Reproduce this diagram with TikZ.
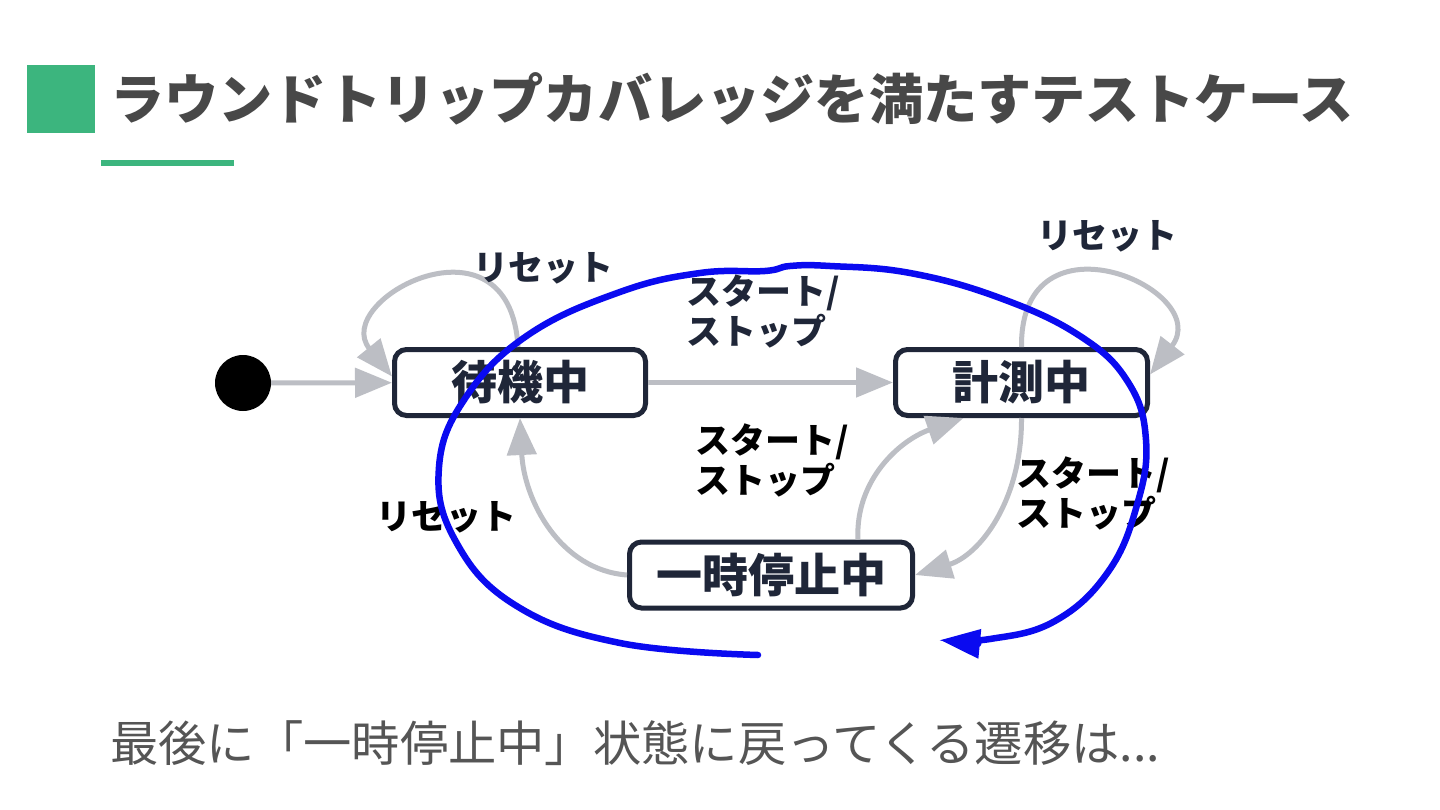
\documentclass[tikz,border=0pt]{standalone}
\usepackage{fontspec}
\setmainfont{Noto Sans CJK JP}
\usetikzlibrary{arrows.meta}
\definecolor{grn}{HTML}{3CB57E}
\definecolor{ttl}{HTML}{484848}
\definecolor{navy}{HTML}{1F2638}
\definecolor{arr}{HTML}{BCBEC4}
\definecolor{blu}{HTML}{0A0AF0}
\definecolor{btm}{HTML}{555555}
\begin{document}
\begin{tikzpicture}[x=1pt,y=-1pt,
  statebox/.style={draw=navy, line width=5pt, rounded corners=12pt, fill=white,
    minimum height=66pt, text=navy, inner sep=0pt,
    font=\fontsize{46}{50}\selectfont\bfseries},
  garr/.style={draw=arr, line width=5pt, -{Triangle[length=37pt,width=29pt]}},
  lbl/.style={inner sep=0pt, align=left, font=\fontsize{35}{40}\selectfont\bfseries},
]
\useasboundingbox (0,0) rectangle (1440,810);
\fill[white] (0,0) rectangle (1440,810);

% title
\fill[grn] (27,65) rectangle (95,133);
\fill[grn] (101,160) rectangle (234,166);
\node[anchor=west, inner sep=0pt, text=ttl, font=\fontsize{54.2}{60}\selectfont\bfseries] (title) at (110,99) {ラウンドトリップカバレッジを満たすテストケース};

% states
\node[circle, fill=black, minimum size=56pt, inner sep=0pt] (init) at (243,383) {};
\node[statebox, minimum width=251pt] (wait) at (520,382.5) {待機中};
\node[statebox, minimum width=252pt] (meas) at (1021.5,382.5) {計測中};
\node[statebox, minimum width=283pt] (pause) at (771,575) {一時停止中};

% transitions
\draw[garr] (init) -- (wait);
\draw[garr] (wait) -- (meas);
\draw[garr] ([xshift=-2pt]wait.north) .. controls (510,205) and (330,300) .. ([yshift=6pt]wait.west);
\draw[garr] (meas.north) .. controls (1020,205) and (1215,290) .. ([yshift=8pt]meas.east);
\draw[garr] (pause.west) .. controls (560,570) and (524,500) .. (wait.south);
\draw[garr] ([xshift=87pt]pause.north) .. controls (855,480) and (900,440) .. ([xshift=-58pt]meas.south);
\draw[garr] (meas.south) .. controls (1022,500) and (980,555) .. (pause.east);

% labels
\node[lbl, text=navy] (l1) at (543,268) {リセット};
\node[lbl, text=navy] (l2) at (1107,236) {リセット};
\node[lbl, text=navy, anchor=west] (l3) at (686,311) {スタート/\\ストップ};
\node[lbl, text=black, anchor=west] (l4) at (695,460) {スタート/\\ストップ};
\node[lbl, text=black] (l5) at (446,517) {リセット};
\node[lbl, text=black, anchor=west] (l6) at (1016,493) {スタート/\\ストップ};

% bottom text
\node[anchor=west, inner sep=0pt, text=btm, font=\fontsize{48.3}{52}\selectfont] (bottom) at (110,743) {最後に「一時停止中」状態に戻ってくる遷移は...};

% hand-drawn blue path
\draw[blu, line width=6.5pt, line cap=round, -{Triangle[length=40pt,width=28pt]}] plot[smooth, tension=0.7] coordinates {
 (758,655) (620,643) (515,605) (455,540) (439,467) (466,397) (528,335)
 (620,292) (700,273) (765,271) (790,266) (830,266) (910,273) (1000,298)
 (1080,336) (1128,382) (1146,440) (1137,505) (1108,572) (1055,621) (990,639) (940,640)};
\end{tikzpicture}
\end{document}
